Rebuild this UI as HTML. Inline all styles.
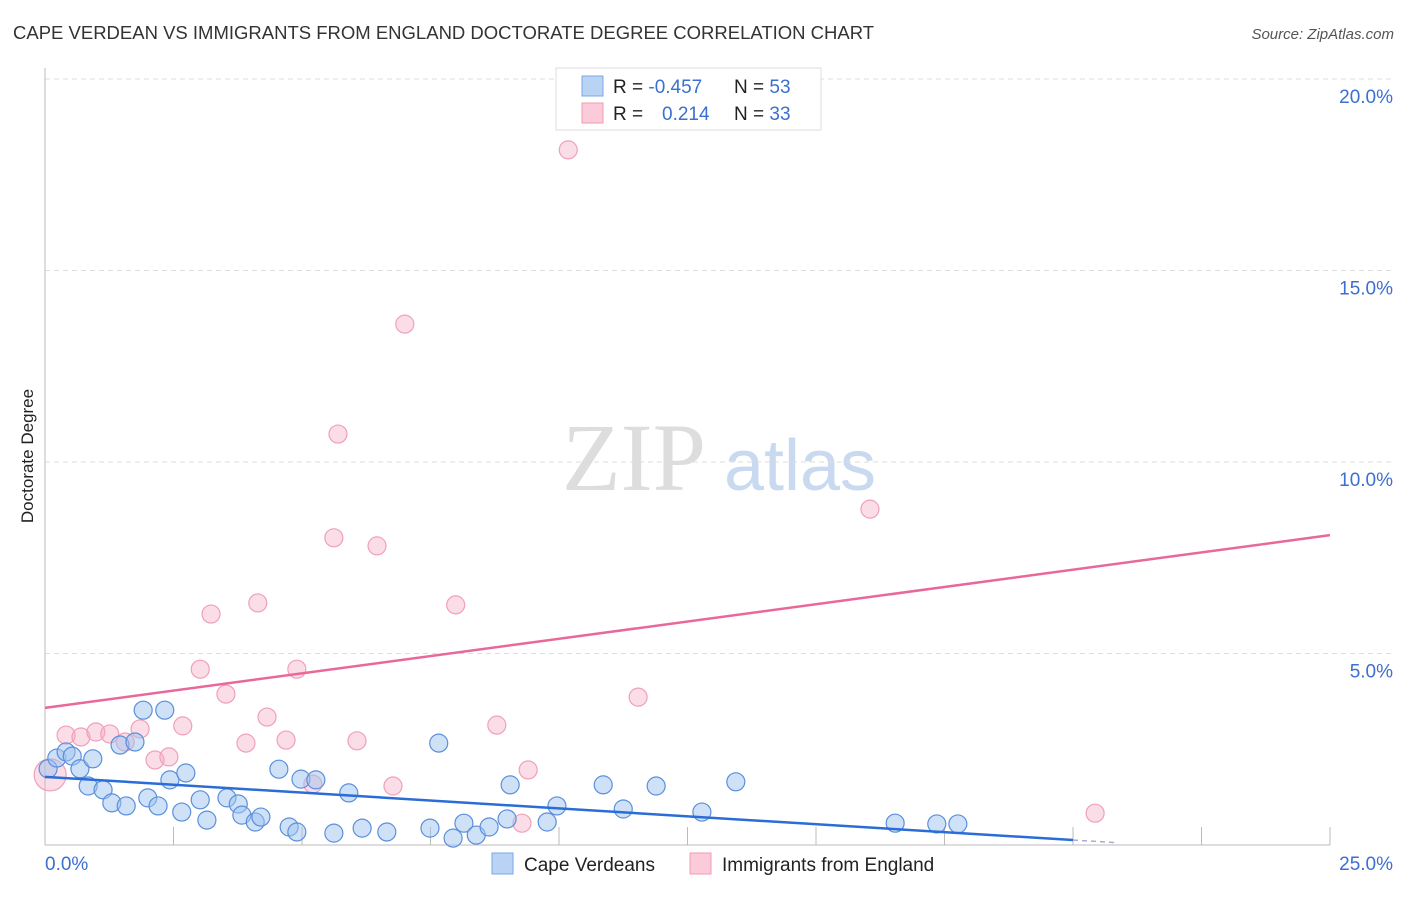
<!DOCTYPE html>
<html><head><meta charset="utf-8"><style>
body{margin:0;background:#fff;font-family:"Liberation Sans",sans-serif;}
</style></head><body>
<svg id="chart" width="1406" height="892" xmlns="http://www.w3.org/2000/svg" font-family="Liberation Sans, sans-serif">
<text x="13" y="39" font-size="18.5" fill="#333">CAPE VERDEAN VS IMMIGRANTS FROM ENGLAND DOCTORATE DEGREE CORRELATION CHART</text>
<text x="1394" y="39" font-size="15" fill="#555" text-anchor="end" font-style="italic">Source: ZipAtlas.com</text>
<text transform="translate(33,456) rotate(-90)" font-size="17" fill="#222" text-anchor="middle">Doctorate Degree</text>
<g>
<text x="634" y="490" font-size="96" fill="#ddd" font-family="Liberation Serif, serif" text-anchor="middle">ZIP</text>
<text x="800" y="490" font-size="72" fill="#c8d9f0" text-anchor="middle">atlas</text>
</g>
<g id="grid"></g><g id="axes"></g><g id="marks"></g>
<g>
<rect x="556" y="68" width="265" height="62" fill="#fff" stroke="#ddd"/>
<rect x="582" y="76" width="21" height="20" fill="#b9d3f5" stroke="#7aa7e6"/>
<rect x="582" y="103" width="21" height="20" fill="#fbcbd9" stroke="#f09ab5"/>
<text x="613" y="93" font-size="19" fill="#222">R = <tspan fill="#3b6fd0">-0.457</tspan></text>
<text x="734" y="93" font-size="19" fill="#222">N = <tspan fill="#3b6fd0">53</tspan></text>
<text x="613" y="120" font-size="19" fill="#222">R = </text>
<text x="662" y="120" font-size="19" fill="#3b6fd0">0.214</text>
<text x="734" y="120" font-size="19" fill="#222">N = <tspan fill="#3b6fd0">33</tspan></text>
</g>
<g>
<rect x="492" y="853" width="21" height="21" fill="#b9d3f5" stroke="#7aa7e6"/>
<text x="524" y="871" font-size="19" fill="#222">Cape Verdeans</text>
<rect x="690" y="853" width="21" height="21" fill="#fbcbd9" stroke="#f09ab5"/>
<text x="722" y="871" font-size="19" fill="#222">Immigrants from England</text>
</g>
</svg>
<script>
const blueX=[0.06,0.23,0.41,0.53,0.68,0.93,0.84,1.13,1.3,1.58,1.46,1.75,1.91,2.33,2.0,2.2,2.43,2.74,2.66,3.02,3.15,3.54,3.76,3.83,4.09,4.2,4.55,4.75,4.9,4.98,5.27,5.62,5.91,6.17,6.65,7.49,7.66,7.94,8.15,8.39,8.64,8.99,9.05,9.77,9.96,10.86,11.25,11.89,12.78,13.44,16.54,17.35,17.76];
const blueY=[1.99,2.27,2.43,2.32,1.99,2.25,1.54,1.44,1.1,1.02,2.61,2.69,3.52,3.52,1.23,1.02,1.7,1.88,0.86,1.18,0.65,1.23,1.07,0.78,0.6,0.73,1.98,0.47,0.34,1.72,1.7,0.31,1.36,0.44,0.34,0.44,2.66,0.18,0.57,0.26,0.47,0.68,1.57,0.6,1.02,1.57,0.94,1.54,0.86,1.65,0.57,0.55,0.55];
const pinkX=[0.1,0.41,0.7,0.99,1.26,1.56,1.85,2.14,2.41,2.68,3.02,3.23,3.52,3.91,4.14,4.32,4.69,4.9,5.21,5.7,5.62,6.07,6.46,6.77,7.0,7.99,8.79,9.4,9.28,10.18,11.54,16.05,20.43];
const pinkY=[1.83,2.87,2.82,2.95,2.9,2.69,3.03,2.22,2.3,3.11,4.59,6.03,3.94,2.66,6.32,3.34,2.74,4.59,1.59,10.73,8.02,2.72,7.81,1.54,13.6,6.27,3.13,1.96,0.57,18.15,3.86,8.77,0.83];
const pinkR=[16,9,9,9,9,9,9,9,9,9,9,9,9,9,9,9,9,9,9,9,9,9,9,9,9,9,9,9,9,9,9,9,9];
const yTicks=[5,10,15,20];const yTickLabels=["5.0%","10.0%","15.0%","20.0%"];
const xTicks=[2.5,5,7.5,10,12.5,15,17.5,20,22.5,25];
const blueTrend=[1.78,-0.0825];const pinkTrend=[3.58,0.1804];
const X=v=>45+v*51.4, Y=v=>845-v*38.3;
const NS="http://www.w3.org/2000/svg";
function mk(t,a,p){const e=document.createElementNS(NS,t);for(const k in a)e.setAttribute(k,a[k]);p.appendChild(e);return e;}
const grid=document.getElementById('grid'),axes=document.getElementById('axes'),marks=document.getElementById('marks');
yTicks.forEach((t,i)=>{const l=mk('line',{x1:45,x2:1394,y1:Y(t),y2:Y(t),stroke:'#ddd','stroke-dasharray':'5,4'},grid);


const tx=mk('text',{x:1393,y:Y(t)+24,'font-size':19,fill:'#3b6fd0','text-anchor':'end'},axes);tx.textContent=yTickLabels[i];

});
mk('line',{x1:45,x2:45,y1:68,y2:845,stroke:'#bbb'},axes);
mk('line',{x1:45,x2:1330,y1:845,y2:845,stroke:'#bbb'},axes);
xTicks.forEach(t=>{const l=mk('line',{x1:X(t),x2:X(t),y1:845,y2:827,stroke:'#bbb'},axes);

});
let a=mk('text',{x:45,y:870,'font-size':19,fill:'#3b6fd0'},axes);a.textContent='0.0%';

a=mk('text',{x:1393,y:870,'font-size':19,fill:'#3b6fd0','text-anchor':'end'},axes);a.textContent='25.0%';

pinkX.forEach((x,i)=>{const c=mk('circle',{cx:X(x),cy:Y(pinkY[i]),r:pinkR[i],fill:'rgba(246,170,195,0.4)',stroke:'#f0a0b8','stroke-width':1.2},marks);

});
blueX.forEach((x,i)=>{const c=mk('circle',{cx:X(x),cy:Y(blueY[i]),r:9,fill:'rgba(160,195,240,0.5)',stroke:'#5a8fdc','stroke-width':1.2},marks);

});
let tl=mk('line',{x1:X(0),y1:Y(pinkTrend[0]),x2:X(25),y2:Y(pinkTrend[0]+25*pinkTrend[1]),stroke:'#e8689a','stroke-width':2.5},marks);

tl=mk('line',{x1:X(0),y1:Y(blueTrend[0]),x2:X(20),y2:Y(blueTrend[0]+20*blueTrend[1]),stroke:'#2a6dd6','stroke-width':2.5},marks);

tl=mk('line',{x1:X(20),y1:Y(blueTrend[0]+20*blueTrend[1]),x2:X(20.8),y2:Y(blueTrend[0]+20.8*blueTrend[1]),stroke:'#aac','stroke-width':1.5,'stroke-dasharray':'5,4'},marks);

</script>
</body></html>
